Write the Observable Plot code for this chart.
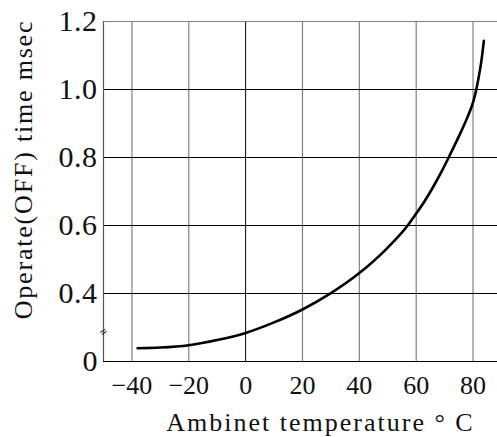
<!DOCTYPE html>
<html><head><meta charset="utf-8">
<script src="https://cdn.jsdelivr.net/npm/d3@7"></script>
<script src="https://cdn.jsdelivr.net/npm/@observablehq/plot@0.6"></script>
<style>body{margin:0;background:#fff}</style>
</head><body><div id="chart"></div>
<script>
// Curve (y in linear chart units; bottom edge labelled "0" is a broken axis)
const temperature = [-38, -30, -20, -10, 0, 10, 20, 30, 40, 50, 57, 60, 63, 66, 69, 72, 75, 78, 80, 81, 82, 83, 83.8];
const operateTime = [0.239, 0.241, 0.248, 0.263, 0.284, 0.315, 0.353, 0.401, 0.460, 0.535, 0.600, 0.635, 0.672, 0.714, 0.760, 0.810, 0.862, 0.918, 0.962, 0.995, 1.037, 1.088, 1.143];

const xTickValues = [-40, -20, 0, 20, 40, 60, 80];
const xTickLabels = ["−40", "−20", "0", "20", "40", "60", "80"];
const yTickValues = [0.2, 0.4, 0.6, 0.8, 1.0, 1.2];
const yTickLabels = ["0", "0.4", "0.6", "0.8", "1.0", "1.2"];
const breakAt = [0.287];

const xTitle = "Ambinet temperature ° C";
const yTitle = "Operate(OFF) time msec";

const data = temperature.map((t, i) => ({t, v: operateTime[i]}));
const font = "Liberation Serif, Times New Roman, serif";

const chart = Plot.plot({
  width: 497,
  height: 437,
  marginLeft: 103,
  marginRight: 0,
  marginTop: 21,
  marginBottom: 76,
  x: {domain: [-50, 88.6], axis: null},
  y: {domain: [0.2, 1.2], axis: null},
  marks: [
    Plot.ruleX(xTickValues.filter(d => d !== 0), {x: d => d, stroke: "#808080", strokeWidth: 1.2}),
    Plot.ruleX(xTickValues.filter(d => d === 0), {x: d => d, stroke: "#000", strokeWidth: 1}),
    Plot.ruleY(yTickValues.filter(d => d > 0.2 && d < 1.2), {y: d => d, stroke: "#000", strokeWidth: 1}),
    Plot.ruleY([1.2], {y: d => d, stroke: "#808080", strokeWidth: 1.2}),
    Plot.ruleY([0.2], {y: d => d, stroke: "#000", strokeWidth: 1.2}),
    Plot.ruleX([-50], {x: d => d, stroke: "#555", strokeWidth: 1.2}),
    Plot.text(breakAt, {x: -50, y: d => d, text: () => "≈", rotate: -40, fontSize: 12, fill: "#000"}),
    Plot.line(data, {x: "t", y: "v", curve: "monotone-x", stroke: "#000", strokeWidth: 2.6}),
    Plot.text(yTickValues, {y: d => d, frameAnchor: "left", text: (d, i) => yTickLabels[i],
      textAnchor: "end", dx: -6, fontSize: 30, fontFamily: font, fill: "#111"}),
    Plot.text(xTickValues, {x: d => d, frameAnchor: "bottom", text: (d, i) => xTickLabels[i],
      dy: 32, fontSize: 26, fontFamily: font, fill: "#111"}),
    Plot.text([xTitle], {frameAnchor: "bottom", text: d => d, textAnchor: "middle",
      dx: 20, dy: 69, fontSize: 26, fontFamily: font, fill: "#111"}),
    Plot.text([yTitle], {frameAnchor: "left", text: d => d, textAnchor: "middle", rotate: -90,
      dx: -80, dy: -22, fontSize: 26, fontFamily: font, fill: "#111"})
  ]
});
// letter spacing to mimic the monospaced original lettering
d3.select(chart).selectAll("text").each(function () {
  const t = this.textContent;
  if (t === xTitle) this.setAttribute("letter-spacing", "2");
  else if (t === yTitle) this.setAttribute("letter-spacing", "1.8");
  else if (yTickLabels.includes(t) && t.includes(".")) this.setAttribute("letter-spacing", "0.5");
});
document.getElementById("chart").appendChild(chart);
</script>
</body></html>
